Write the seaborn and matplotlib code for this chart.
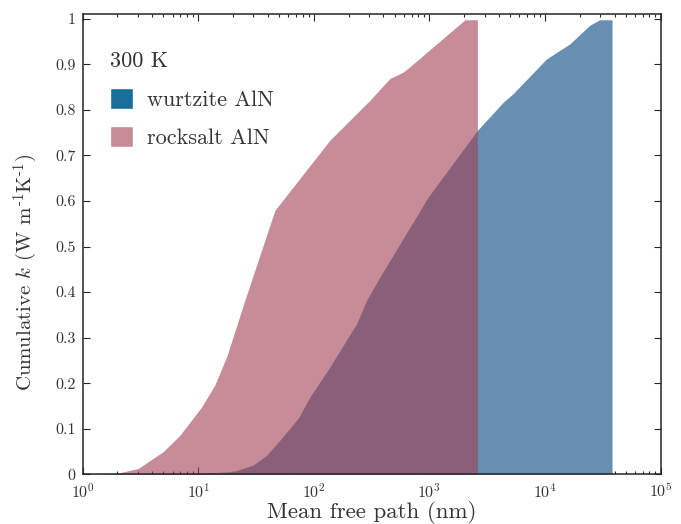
import numpy as np
import pandas as pd
import matplotlib
matplotlib.use('Agg')
import matplotlib.pyplot as plt
import seaborn as sns
from matplotlib.patches import Patch
from matplotlib.ticker import FuncFormatter, LogLocator

# cumulative k vs mean free path (nm)
mfp_rock = [1.0, 1.5, 1.97, 3.03, 4.98, 6.95, 10.7, 13.9, 17.6, 25.3, 46.1,
            137, 305, 455, 593, 724, 2030, 2600]
k_rock = [0.0, 0.001, 0.002, 0.013, 0.050, 0.086, 0.148, 0.196, 0.258, 0.382, 0.580,
          0.733, 0.821, 0.869, 0.883, 0.901, 0.998, 0.998]

mfp_wurtz = [1.0, 9.9, 20, 29.7, 39.1, 50.9, 73.3, 92.5, 138, 192, 235, 286,
             373, 977, 2600, 4350, 5310, 10300, 16400, 24400, 29800, 38000]
k_wurtz = [0.0, 0.002, 0.006, 0.020, 0.042, 0.075, 0.123, 0.170, 0.236, 0.295, 0.331, 0.382,
           0.433, 0.609, 0.755, 0.817, 0.836, 0.912, 0.945, 0.986, 0.998, 0.998]

rock = pd.DataFrame({'mfp': mfp_rock, 'k': k_rock})
wurtz = pd.DataFrame({'mfp': mfp_wurtz, 'k': k_wurtz})

sns.set_theme(style='ticks')
plt.rcParams['font.family'] = 'serif'
plt.rcParams['font.serif'] = ['cmr10']
plt.rcParams['mathtext.fontset'] = 'cm'
plt.rcParams['axes.formatter.use_mathtext'] = True
plt.rcParams['text.color'] = '.2'
plt.rcParams['axes.labelcolor'] = '.2'
plt.rcParams['xtick.color'] = '.15'
plt.rcParams['ytick.color'] = '.15'
plt.rcParams['xtick.labelcolor'] = '.2'
plt.rcParams['ytick.labelcolor'] = '.2'

fig, ax = plt.subplots(figsize=(6.81, 5.24), dpi=100)
fig.subplots_adjust(left=0.1214, right=0.970, bottom=0.0948, top=0.9727)

ax.fill_between(wurtz['mfp'], 0, wurtz['k'], color='#678fb2', lw=0, zorder=1)
ax.fill_between(rock['mfp'], 0, rock['k'], color='#a03f53', alpha=0.6, lw=0, zorder=2)

ax.set_xscale('log')
ax.set_xlim(1, 1e5)
ax.set_ylim(0, 1.01)
ax.set_yticks(np.arange(0, 1.01, 0.1))
ax.yaxis.set_major_formatter(FuncFormatter(lambda v, p: f'{v:g}'))
ax.xaxis.set_major_locator(LogLocator(base=10, numticks=10))
ax.xaxis.set_minor_locator(LogLocator(base=10, subs=np.arange(2, 10), numticks=20))

ax.tick_params(which='both', direction='in', top=True, right=True, width=0.8,
               labelsize=11.5)
ax.tick_params(axis='x', pad=5.5)
ax.tick_params(axis='y', pad=5)
ax.tick_params(which='major', length=5)
ax.tick_params(which='minor', length=2.5)
for s in ax.spines.values():
    s.set_linewidth(1.1)
    s.set_color('.15')

ax.set_xlabel('Mean free path (nm)', fontsize=16.5, labelpad=0)
ax.set_ylabel(r'Cumulative $k$ (W m$^{\text{-}1}$K$^{\text{-}1}$)', fontsize=15)
ax.yaxis.set_label_coords(-0.073, 0.44)

handles = [Patch(facecolor='#176e9b', label='wurtzite AlN'),
           Patch(facecolor='#c68c98', label='rocksalt AlN')]
ax.legend(handles=handles, title='300 K', frameon=False, loc='upper left',
          bbox_to_anchor=(0.032, 0.938), borderaxespad=0, fontsize=16,
          title_fontsize=16, alignment='left', handlelength=1.05, handleheight=1.05,
          handletextpad=0.6, labelspacing=0.75)

fig.savefig('out.png', dpi=100)
